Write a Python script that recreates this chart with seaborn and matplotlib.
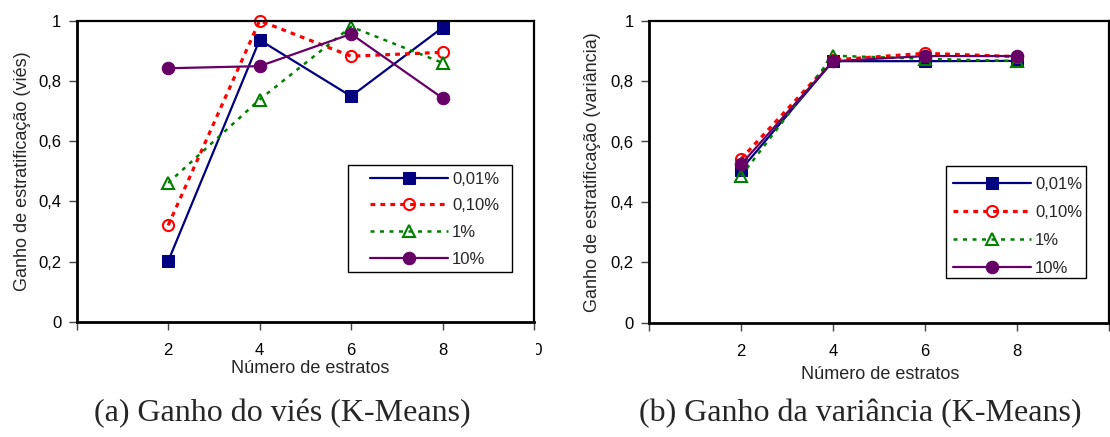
import matplotlib
matplotlib.use("Agg")
import matplotlib.pyplot as plt
import seaborn as sns
import pandas as pd
from matplotlib.transforms import Bbox
from matplotlib.patches import Rectangle

sns.set_theme(style="white")
plt.rcParams['font.family'] = ['Liberation Sans', 'DejaVu Sans']

# ---- data ----
estratos = [2, 4, 6, 8]
series_labels = ["0,01%", "0,10%", "1%", "10%"]

vies_001 = [0.201, 0.936, 0.749, 0.977]
vies_010 = [0.320, 1.000, 0.882, 0.895]
vies_1 = [0.461, 0.738, 0.980, 0.860]
vies_10 = [0.842, 0.849, 0.956, 0.743]

var_001 = [0.507, 0.866, 0.866, 0.867]
var_010 = [0.542, 0.870, 0.892, 0.881]
var_1 = [0.485, 0.884, 0.874, 0.866]
var_10 = [0.524, 0.866, 0.883, 0.883]

xticks = [0, 2, 4, 6, 8, 10]
xticklabels = ["", "2", "4", "6", "8", "10"]
yticks = [0, 0.2, 0.4, 0.6, 0.8, 1.0]
yticklabels = ["0", "0,2", "0,4", "0,6", "0,8", "1"]

ylabel_a = "Ganho de estratificação (viés)"
ylabel_b = "Ganho de estratificação (variância)"
xlabel = "Número de estratos"
caption_a = "(a) Ganho do viés (K-Means)"
caption_b = "(b) Ganho da variância (K-Means)"

styles = [
    dict(color="#000080", marker="s", markersize=8.5, markerfacecolor="#000080",
         markeredgecolor="#000080", linestyle="-", linewidth=1.6),
    dict(color="#FF0000", marker="o", markersize=8, markerfacecolor="none",
         markeredgecolor="#FF0000", markeredgewidth=1.5, linestyle=(0, (1.5, 1.6)), linewidth=2.3),
    dict(color="#008000", marker="^", markersize=9, markerfacecolor="none",
         markeredgecolor="#008000", markeredgewidth=1.5, linestyle=(0, (1.6, 2.2)), linewidth=1.8),
    dict(color="#660066", marker="o", markersize=9, markerfacecolor="#660066",
         markeredgecolor="#660066", linestyle="-", linewidth=1.6),
]

W, H = 1110, 437
fig = plt.figure(figsize=(W / 100, H / 100), dpi=100)


def axes_px(x0, x1, ytop, ybot):
    return fig.add_axes([x0 / W, 1 - ybot / H, (x1 - x0) / W, (ybot - ytop) / H])


ax_a = axes_px(76.7, 534, 20.7, 321.7)
ax_b = axes_px(649, 1109, 20.7, 322.7)


def draw(ax, ys, ylabel, ylab_x, xlab_xy, leg_anchor, leg_spacing, box):
    for lab, y, st in zip(series_labels, ys, styles):
        df = pd.DataFrame({"x": estratos, "y": y})
        sns.lineplot(data=df, x="x", y="y", ax=ax, label=lab, clip_on=False, **st)
    ax.set_xlim(0, 10)
    ax.set_ylim(0, 1)
    ax.set_xticks(xticks)
    ax.set_xticklabels(xticklabels)
    ax.set_yticks(yticks)
    ax.set_yticklabels(yticklabels)
    ax.tick_params(axis="both", which="both", direction="out", length=6, width=1,
                   color="#444444", labelsize=12, labelcolor="black", pad=5)
    ax.tick_params(axis="x", pad=9, bottom=True)
    ax.tick_params(axis="y", left=True)
    for side in ["left", "bottom"]:
        ax.spines[side].set_linewidth(2.0)
        ax.spines[side].set_color("black")
    for side in ["top", "right"]:
        ax.spines[side].set_linewidth(1.6)
        ax.spines[side].set_color("black")
    ax.set_xlabel(xlabel, fontsize=13)
    ax.set_ylabel(ylabel, fontsize=13)
    ax.yaxis.set_label_coords(ylab_x, 0.5)
    ax.xaxis.set_label_coords(*xlab_xy)
    ax.grid(False)
    ax.add_patch(Rectangle(box[:2], box[2], box[3], transform=ax.transAxes,
                           facecolor="white", edgecolor="black", linewidth=1.0,
                           zorder=4, clip_on=False))
    leg = ax.legend(loc="upper left", bbox_to_anchor=leg_anchor, borderaxespad=0,
                    fontsize=12, handlelength=4.68, handletextpad=0.24,
                    labelspacing=leg_spacing, frameon=False, borderpad=0)
    leg.set_zorder(5)
    return leg


draw(ax_a, [vies_001, vies_010, vies_1, vies_10], ylabel_a, -0.0994, (0.51, -0.127),
     (0.6414, 0.499), 0.70, (0.5933, 0.1651, 0.3586, 0.3555))
draw(ax_b, [var_001, var_010, var_1, var_10], ylabel_b, -0.1045, (0.502, -0.144),
     (0.6609, 0.484), 0.78, (0.645, 0.147, 0.3043, 0.3719))

# the source image cuts the "10" tick label of panel (a) at its right edge
fig.canvas.draw()
for lbl in ax_a.get_xticklabels():
    if lbl.get_text() == "10":
        lbl.set_clip_box(Bbox.from_extents(536, 0, 542, H))
        lbl.set_clip_on(True)
for lbl in ax_b.get_xticklabels():
    if lbl.get_text() == "10":
        lbl.set_visible(False)

fig.text(282 / W, 1 - 414 / H, caption_a, ha="center", va="center",
         fontsize=23, family=["Liberation Serif", "DejaVu Serif"])
fig.text(860 / W, 1 - 414 / H, caption_b, ha="center", va="center",
         fontsize=23, family=["Liberation Serif", "DejaVu Serif"])

fig.savefig("out.png", dpi=100, facecolor="white")
